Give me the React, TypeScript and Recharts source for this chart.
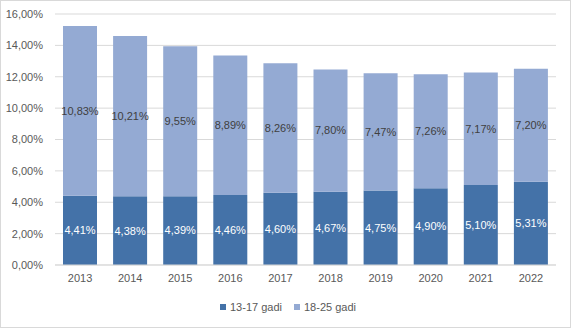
import React from 'react';
import { BarChart, Bar, XAxis, YAxis, CartesianGrid, Legend, LabelList } from 'recharts';

const years = ['2013', '2014', '2015', '2016', '2017', '2018', '2019', '2020', '2021', '2022'];
const age1317 = [4.41, 4.38, 4.39, 4.46, 4.6, 4.67, 4.75, 4.9, 5.1, 5.31];
const age1825 = [10.83, 10.21, 9.55, 8.89, 8.26, 7.8, 7.47, 7.26, 7.17, 7.2];
const yTicks = [0, 2, 4, 6, 8, 10, 12, 14, 16];

const DARK = '#4472A8';
const LIGHT = '#94AAD3';
const FONT = '"Liberation Sans", Arial, sans-serif';

const data = years.map((y, i) => ({ year: y, a: age1317[i], b: age1825[i] }));

const pct = (v: number) => v.toFixed(2).replace('.', ',') + '%';

const legendItems = [
  { name: '13-17 gadi', color: DARK },
  { name: '18-25 gadi', color: LIGHT },
];

function LegendBox() {
  return (
    <div
      style={{
        display: 'flex',
        justifyContent: 'center',
        alignItems: 'center',
        height: 14,
        paddingLeft: 19,
        gap: 12,
        fontFamily: FONT,
        fontSize: 11,
        color: '#595959',
      }}
    >
      {legendItems.map((it) => (
        <div key={it.name} style={{ display: 'flex', alignItems: 'center', gap: 4 }}>
          <span style={{ width: 6, height: 6, background: it.color, display: 'inline-block' }}></span>
          <span>{it.name}</span>
        </div>
      ))}
    </div>
  );
}

export default function App() {
  return (
    <div
      style={{
        position: 'fixed',
        left: 0,
        top: 0,
        width: 571,
        height: 328,
        background: '#fff',
        border: '1px solid #d9d9d9',
        boxSizing: 'border-box',
      }}
    >
      <BarChart
        width={569}
        height={326}
        data={data}
        margin={{ top: 13, right: 14, left: 0, bottom: 13 }}
      >
        <CartesianGrid vertical={false} stroke="#d9d9d9" />
        <XAxis
          dataKey="year"
          tickLine={false}
          axisLine={{ stroke: '#d9d9d9' }}
          tick={{ fill: '#595959', fontSize: 11, fontFamily: FONT }}
          tickMargin={3}
          height={35}
        />
        <YAxis
          width={54}
          domain={[0, 16]}
          ticks={yTicks}
          tickFormatter={pct}
          tickLine={false}
          axisLine={false}
          tick={{ fill: '#595959', fontSize: 11, fontFamily: FONT }}
          tickMargin={6}
        />
        <Legend verticalAlign="bottom" height={14} content={<LegendBox />} />
        <Bar dataKey="a" name="13-17 gadi" stackId="s" fill={DARK} barSize={34} isAnimationActive={false}>
          <LabelList dataKey="a" position="center" formatter={(v: number) => pct(v)} fill="#ffffff" fontSize={11} fontFamily={FONT} />
        </Bar>
        <Bar dataKey="b" name="18-25 gadi" stackId="s" fill={LIGHT} barSize={34} isAnimationActive={false}>
          <LabelList dataKey="b" position="center" formatter={(v: number) => pct(v)} fill="#404040" fontSize={11} fontFamily={FONT} />
        </Bar>
      </BarChart>
    </div>
  );
}
